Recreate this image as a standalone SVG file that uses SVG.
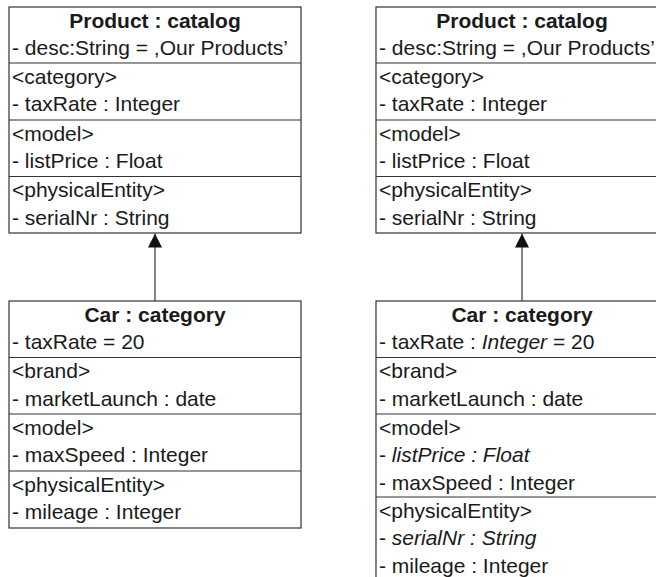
<svg xmlns="http://www.w3.org/2000/svg" width="656" height="577" viewBox="0 0 656 577">
  <style>
    .box { fill: #ffffff; stroke: #333333; stroke-width: 1.2; }
    .sep { stroke: #333333; stroke-width: 1.2; }
    .t { font-family: "Liberation Sans", Arial, sans-serif; font-size: 21px; fill: #1a1a1a; }
    .title { font-weight: bold; text-anchor: middle; }
    .it { font-style: italic; }
    .link { stroke: #444444; stroke-width: 1.3; fill: none; marker-end: url(#head); }
  </style>
  <defs>
    <marker id="head" markerUnits="userSpaceOnUse" markerWidth="14" markerHeight="14" viewBox="0 0 14 14" refX="14" refY="7" orient="auto">
      <path d="M0,0 L14,7 L0,14 z" fill="#111111"/>
    </marker>
  </defs>

  <rect width="656" height="577" fill="#ffffff"/>

  <!-- left: Product : catalog -->
  <g id="product-left">
    <rect class="box" x="9" y="7" width="292" height="226"/>
    <line class="sep" x1="9" y1="63" x2="301" y2="63"/>
    <line class="sep" x1="9" y1="120" x2="301" y2="120"/>
    <line class="sep" x1="9" y1="176.5" x2="301" y2="176.5"/>
    <text class="t title" x="155" y="27.5">Product : catalog</text>
    <text class="t" x="12" y="55">- desc:String = ,Our Products’</text>
    <text class="t" x="12" y="83.5">&lt;category&gt;</text>
    <text class="t" x="12" y="111">- taxRate : Integer</text>
    <text class="t" x="12" y="140.5">&lt;model&gt;</text>
    <text class="t" x="12" y="168">- listPrice : Float</text>
    <text class="t" x="12" y="197">&lt;physicalEntity&gt;</text>
    <text class="t" x="12" y="224.5">- serialNr : String</text>
  </g>

  <!-- left: Car : category -->
  <g id="car-left">
    <rect class="box" x="9" y="301" width="292" height="227"/>
    <line class="sep" x1="9" y1="357.5" x2="301" y2="357.5"/>
    <line class="sep" x1="9" y1="414" x2="301" y2="414"/>
    <line class="sep" x1="9" y1="471" x2="301" y2="471"/>
    <text class="t title" x="155" y="321.5">Car : category</text>
    <text class="t" x="12" y="349">- taxRate = 20</text>
    <text class="t" x="12" y="378">&lt;brand&gt;</text>
    <text class="t" x="12" y="405.5">- marketLaunch : date</text>
    <text class="t" x="12" y="434.5">&lt;model&gt;</text>
    <text class="t" x="12" y="462">- maxSpeed : Integer</text>
    <text class="t" x="12" y="491.5">&lt;physicalEntity&gt;</text>
    <text class="t" x="12" y="519">- mileage : Integer</text>
  </g>

  <!-- right: Product : catalog -->
  <g id="product-right">
    <rect class="box" x="376" y="7" width="292" height="226"/>
    <line class="sep" x1="376" y1="63" x2="668" y2="63"/>
    <line class="sep" x1="376" y1="120" x2="668" y2="120"/>
    <line class="sep" x1="376" y1="176.5" x2="668" y2="176.5"/>
    <text class="t title" x="522" y="27.5">Product : catalog</text>
    <text class="t" x="379" y="55">- desc:String = ,Our Products’</text>
    <text class="t" x="379" y="83.5">&lt;category&gt;</text>
    <text class="t" x="379" y="111">- taxRate : Integer</text>
    <text class="t" x="379" y="140.5">&lt;model&gt;</text>
    <text class="t" x="379" y="168">- listPrice : Float</text>
    <text class="t" x="379" y="197">&lt;physicalEntity&gt;</text>
    <text class="t" x="379" y="224.5">- serialNr : String</text>
  </g>

  <!-- right: Car : category with inherited attributes -->
  <g id="car-right">
    <rect class="box" x="376" y="301" width="292" height="279"/>
    <line class="sep" x1="376" y1="357.5" x2="668" y2="357.5"/>
    <line class="sep" x1="376" y1="414" x2="668" y2="414"/>
    <line class="sep" x1="376" y1="497" x2="668" y2="497"/>
    <text class="t title" x="522" y="321.5">Car : category</text>
    <text class="t" x="379" y="349">- taxRate : <tspan class="it">Integer</tspan> = 20</text>
    <text class="t" x="379" y="378">&lt;brand&gt;</text>
    <text class="t" x="379" y="405.5">- marketLaunch : date</text>
    <text class="t" x="379" y="434.5">&lt;model&gt;</text>
    <text class="t" x="379" y="462">- <tspan class="it">listPrice : Float</tspan></text>
    <text class="t" x="379" y="489.5">- maxSpeed : Integer</text>
    <text class="t" x="379" y="517.5">&lt;physicalEntity&gt;</text>
    <text class="t" x="379" y="545">- <tspan class="it">serialNr : String</tspan></text>
    <text class="t" x="379" y="572.5">- mileage : Integer</text>
  </g>

  <!-- instance-of links -->
  <g id="connectors">
    <line class="link" x1="155" y1="301" x2="155" y2="233.6"/>
    <line class="link" x1="522" y1="301" x2="522" y2="233.6"/>
  </g>
</svg>
